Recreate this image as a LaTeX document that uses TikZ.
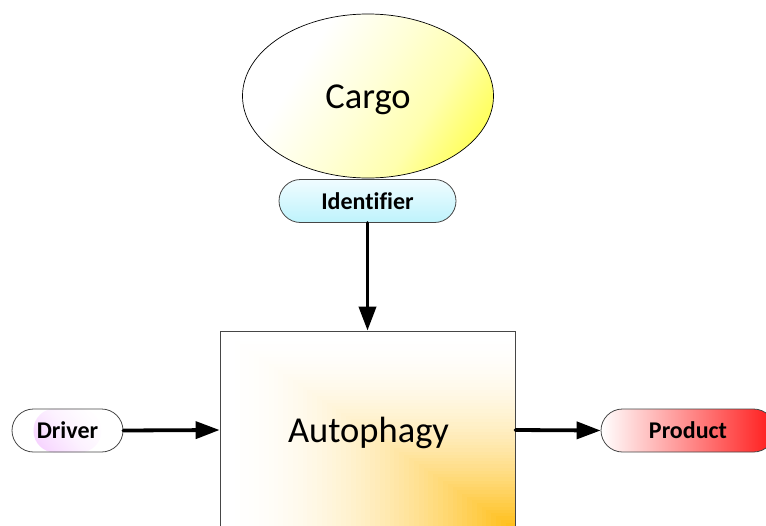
\documentclass[tikz,border=0pt]{standalone}
\usepackage{fontspec}
\setmainfont{Carlito}[Ligatures=CommonOff]
\usetikzlibrary{shapes.geometric,shapes.misc,arrows.meta,backgrounds}

\definecolor{cargoY}{RGB}{255,255,30}
\definecolor{identC}{RGB}{190,243,252}
\definecolor{identT}{RGB}{240,252,255}
\definecolor{driverP}{RGB}{240,180,255}
\definecolor{prodR}{RGB}{255,25,25}
\definecolor{prodM}{RGB}{253,195,195}
\definecolor{amberC}{RGB}{255,188,15}
\definecolor{edgeG}{RGB}{70,70,70}

% white on the left, yellow towards the right (path is mapped to 25bp..75bp)
\pgfdeclarehorizontalshading{cargoshade}{100bp}{%
  color(0bp)=(white); color(25bp)=(white); color(38bp)=(white);
  color(50bp)=(cargoY!18!white); color(60bp)=(cargoY!36!white);
  color(69bp)=(cargoY!72!white); color(75bp)=(cargoY); color(100bp)=(cargoY)}
% pink on the left, fading out to white
\pgfdeclarehorizontalshading{drivershade}{100bp}{%
  color(0bp)=(driverP); color(25bp)=(driverP); color(35bp)=(driverP!75!white);
  color(42bp)=(driverP!45!white); color(50bp)=(driverP!18!white);
  color(58bp)=(driverP!4!white); color(63bp)=(white); color(100bp)=(white)}

% nested rectangles growing from a corner at the origin (up and to the left):
% #1 colour, #2 width, #3 height, #4 number of steps, #5 exponent of the fade
\newcommand\cornerglow[5]{%
  \foreach \k in {0,...,#4}{%
    \pgfmathsetmacro\gs{1-\k/(#4+1)}%
    \pgfmathsetmacro\gp{100*pow(1.0001-\gs,#5)}%
    \fill[#1!\gp!white] (-\gs*#2,-\gs*#3) rectangle (0,0);%
  }}

\tikzset{
  big/.style={font=\fontsize{36.5}{40}\selectfont, inner sep=0pt, anchor=base},
  pill/.style={rounded rectangle, draw=edgeG, line width=0.8pt,
    minimum height=43pt, inner sep=0pt,
    font=\fontsize{24}{28}\selectfont\bfseries},
  flow/.style={line width=3.8pt, line cap=round,
    -{Triangle[length=24pt,width=17pt]}},
}

\begin{document}
\begin{tikzpicture}[x=1pt,y=-1pt]
  \useasboundingbox (0,0) rectangle (766,525);
  \clip (0,0) rectangle (766,525);

  % central process box
  \node[draw=edgeG, line width=0.8pt, rectangle,
        minimum width=295pt, minimum height=198pt, inner sep=0pt] (auto) at (367.5,430) {};
  \begin{pgfonlayer}{background}
    \begin{scope}[shift={(auto.south east)}]
      \cornerglow{amberC}{295}{198}{60}{1.9}
    \end{scope}
  \end{pgfonlayer}
  \node[big] (autotext) at (368.5,442.5) {Autophagy};

  % cargo ellipse, yellow towards the lower right
  \node[ellipse, draw=black, line width=0.7pt,
        minimum width=251pt, minimum height=164pt, inner sep=0pt] (cargo) at (368,96) {};
  \begin{pgfonlayer}{background}
    \begin{scope}
      \path[clip] (cargo.center) ellipse [x radius=125.5pt, y radius=82pt];
      \begin{scope}[transform canvas={rotate around={-32:(cargo.center)}}]
        \shade[shading=cargoshade]
          ([shift={(-150,-140)}]cargo.center) rectangle ([shift={(150,140)}]cargo.center);
      \end{scope}
    \end{scope}
  \end{pgfonlayer}
  \node[big] (cargotext) at (368,108.5) {Cargo};

  % labelled pills
  \node[pill, minimum width=177pt,
        top color=identT, bottom color=identC] (ident) at (367.5,201) {Identifier};
  \node[pill, minimum width=111pt] (driver) at (67.5,430.5) {Driver};
  \begin{pgfonlayer}{background}
    \begin{scope}
      \path[clip] (driver.south west) [rounded corners=21.5pt] rectangle (driver.north east);
      \begin{scope}[transform canvas={rotate around={40:(driver.center)}}]
        \shade[shading=drivershade]
          ([shift={(-72,-60)}]driver.center) rectangle ([shift={(72,60)}]driver.center);
      \end{scope}
    \end{scope}
  \end{pgfonlayer}
  \node[pill, minimum width=174pt,
        left color=white, middle color=prodM, right color=prodR] (product) at (688,430.5) {Product};

  % connectors
  \draw[flow] (ident.south) -- (auto.north);
  \draw[flow] (driver.east) -- (auto.west);
  \draw[flow] (auto.east) -- (product.west);
\end{tikzpicture}
\end{document}
